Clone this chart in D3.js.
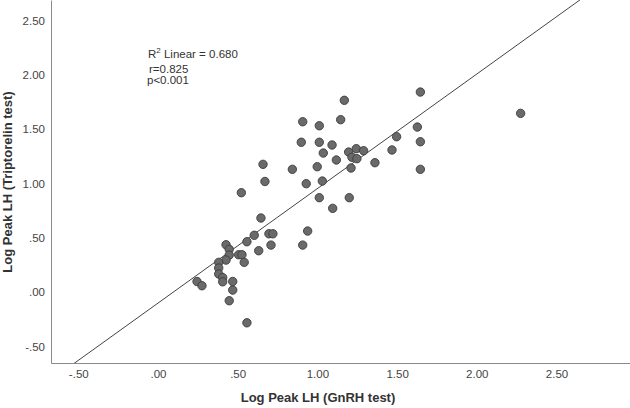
<!DOCTYPE html>
<html>
<head>
<meta charset="utf-8">
<script src="https://cdn.jsdelivr.net/npm/d3@7"></script>
<style>
  html, body { margin: 0; padding: 0; background: #fff; }
  svg { display: block; font-family: "Liberation Sans", Arial, sans-serif; }
</style>
</head>
<body>
<svg id="chart" width="630" height="408"></svg>
<script>
// ---- Data ----
const gnrhLog = [
  1.169, 0.908, 1.012, 1.146, 0.899, 1.012, 1.092, 1.037, 1.196, 1.244,
  1.290, 1.217, 1.248, 1.119, 1.468, 1.497, 1.361, 0.843, 0.999, 1.211,
  1.646, 2.275, 1.627, 1.646, 1.646, 0.930, 1.031, 1.012, 1.200, 1.096,
  0.939, 0.908, 0.659, 0.671, 0.523, 0.646, 0.696, 0.721, 0.604, 0.558,
  0.709, 0.632, 0.427, 0.447, 0.447, 0.506, 0.527, 0.427, 0.541, 0.381,
  0.381, 0.381, 0.406, 0.406, 0.245, 0.276, 0.469, 0.469, 0.447, 0.558
];
const triptorelinLog = [
  1.764, 1.567, 1.530, 1.586, 1.378, 1.378, 1.353, 1.279, 1.288, 1.319,
  1.300, 1.240, 1.227, 1.215, 1.307, 1.429, 1.190, 1.129, 1.153, 1.141,
  1.840, 1.644, 1.518, 1.383, 1.129, 0.997, 1.021, 0.868, 0.868, 0.770,
  0.561, 0.432, 1.175, 1.017, 0.914, 0.681, 0.536, 0.536, 0.522, 0.463,
  0.432, 0.380, 0.435, 0.393, 0.340, 0.343, 0.343, 0.294, 0.273, 0.273,
  0.221, 0.166, 0.133, 0.094, 0.097, 0.058, 0.097, 0.018, -0.080, -0.283
];
const xTicks = [-0.5, 0, 0.5, 1.0, 1.5, 2.0, 2.5];
const yTicks = [-0.5, 0, 0.5, 1.0, 1.5, 2.0, 2.5];
const fitIntercept = -0.102;
const fitSlope = 1.054;
const annotationLines = ["r=0.825", "p<0.001"];
const xTitle = "Log Peak LH (GnRH test)";
const yTitle = "Log Peak LH (Triptorelin test)";

// ---- Layout ----
const W = 630, H = 408;
const padL = 51, padR = 630, padT = 0, padB = 363;
const svg = d3.select("#chart");

const x = d3.scaleLinear().domain([-0.671, 2.961]).range([padL, padR]);
const y = d3.scaleLinear().domain([-0.653, 2.687]).range([padB, padT]);

const fmt = v => {
  let s = d3.format(".2f")(Math.abs(v));
  if (s.startsWith("0")) s = s.slice(1);
  return (v < 0 ? "-" : "") + s;
};

// clip
svg.append("defs").append("clipPath").attr("id", "plotclip")
  .append("rect").attr("x", padL).attr("y", padT)
  .attr("width", padR - padL).attr("height", padB - padT);

// axes
const xAxis = d3.axisBottom(x).tickValues(xTicks).tickFormat(fmt).tickSize(0).tickPadding(7);
const yAxis = d3.axisLeft(y).tickValues(yTicks).tickFormat(fmt).tickSize(0).tickPadding(6);

const gx = svg.append("g").attr("transform", `translate(0,${padB})`).call(xAxis);
const gy = svg.append("g").attr("transform", `translate(${padL},0)`).call(yAxis);
[gx, gy].forEach(g => {
  g.select(".domain").attr("stroke", "#8a8a8a").attr("stroke-width", 1);
  g.selectAll("text").attr("fill", "#444").attr("font-size", 11.5)
    .attr("font-family", "Liberation Sans, Arial, sans-serif");
});

// fit line
const xd = x.domain();
svg.append("line")
  .attr("clip-path", "url(#plotclip)")
  .attr("x1", x(xd[0])).attr("y1", y(fitIntercept + fitSlope * xd[0]))
  .attr("x2", x(xd[1])).attr("y2", y(fitIntercept + fitSlope * xd[1]))
  .attr("stroke", "#444").attr("stroke-width", 1);

// points
svg.append("g").selectAll("circle")
  .data(gnrhLog.map((v, i) => [v, triptorelinLog[i]]))
  .join("circle")
  .attr("cx", d => x(d[0])).attr("cy", d => y(d[1]))
  .attr("r", 4.2)
  .attr("fill", "#6a6a6a").attr("stroke", "#3c3c3c").attr("stroke-width", 0.9);

// annotation
const ann = svg.append("text").attr("x", 148).attr("y", 58)
  .attr("font-size", 11.5).attr("fill", "#333");
ann.append("tspan").text("R");
ann.append("tspan").attr("font-size", 8).attr("dy", -5).text("2");
ann.append("tspan").attr("dy", 5).text(" Linear = 0.680");
svg.append("text").attr("x", 149).attr("y", 73)
  .attr("font-size", 11.5).attr("fill", "#333").text(annotationLines[0]);
svg.append("text").attr("x", 147).attr("y", 84)
  .attr("font-size", 11.5).attr("fill", "#333").text(annotationLines[1]);

// axis titles
svg.append("text").attr("x", 318).attr("y", 402)
  .attr("text-anchor", "middle").attr("font-size", 13).attr("font-weight", "bold")
  .attr("fill", "#333").text(xTitle);
svg.append("text").attr("transform", `translate(12,182) rotate(-90)`)
  .attr("text-anchor", "middle").attr("font-size", 13).attr("font-weight", "bold")
  .attr("fill", "#333").text(yTitle);
</script>
</body>
</html>
